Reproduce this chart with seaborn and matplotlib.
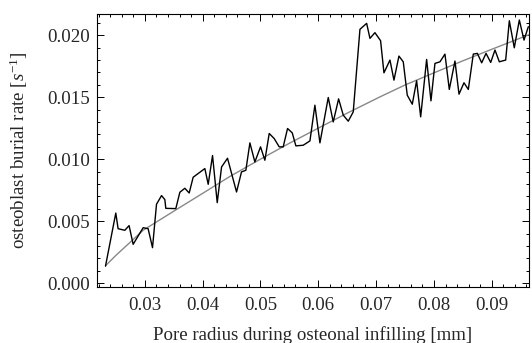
import matplotlib
matplotlib.use("Agg")
import matplotlib.pyplot as plt
import seaborn as sns
import pandas as pd
from matplotlib.ticker import MultipleLocator, FormatStrFormatter

# Noisy simulated burial rate (black)
bx = [0.0232, 0.02498, 0.02538, 0.02654, 0.02728, 0.02798, 0.02971, 0.03057, 0.03133, 0.03202,
      0.03289, 0.03346, 0.03363, 0.03536, 0.03606, 0.03692, 0.03767, 0.03836, 0.04038, 0.04096,
      0.04171, 0.04252, 0.04327, 0.0443, 0.04586, 0.04672, 0.04747, 0.04817, 0.04903, 0.05001,
      0.05076, 0.05151, 0.05237, 0.05324, 0.05393, 0.05468, 0.05549, 0.05612, 0.05739, 0.05855,
      0.05941, 0.06028, 0.06172, 0.06258, 0.06351, 0.06431, 0.06518, 0.06604, 0.0672, 0.06836,
      0.06893, 0.06979, 0.07077, 0.07135, 0.07239, 0.07308, 0.07394, 0.07469, 0.07538, 0.07625,
      0.077, 0.0777, 0.07873, 0.07948, 0.08017, 0.08104, 0.0819, 0.08265, 0.08363, 0.08433,
      0.08519, 0.08594, 0.0868, 0.0875, 0.08825, 0.089, 0.08981, 0.09055, 0.0913, 0.0924,
      0.09303, 0.09389, 0.09476, 0.09557, 0.09632]
by = [0.00137, 0.00565, 0.00439, 0.00426, 0.00464, 0.00313, 0.00447, 0.00439, 0.00286, 0.00636,
      0.00706, 0.00674, 0.00603, 0.00601, 0.00733, 0.00765, 0.00727, 0.00854, 0.00924, 0.00797,
      0.01029, 0.00649, 0.00937, 0.01007, 0.00735, 0.00897, 0.0091, 0.01131, 0.00977, 0.01099,
      0.00991, 0.01207, 0.01166, 0.01099, 0.01099, 0.01247, 0.01212, 0.01107, 0.01112, 0.01147,
      0.01435, 0.01131, 0.01497, 0.013, 0.01486, 0.01355, 0.01306, 0.01381, 0.02047, 0.02095,
      0.01974, 0.0202, 0.01955, 0.01696, 0.01799, 0.01637, 0.01831, 0.01785, 0.01516, 0.01443,
      0.01632, 0.01341, 0.01804, 0.0147, 0.01772, 0.01785, 0.01847, 0.01562, 0.01791, 0.01524,
      0.01616, 0.01562, 0.01847, 0.01853, 0.01777, 0.01853, 0.0178, 0.0188, 0.01785, 0.01799,
      0.02116, 0.01898, 0.02122, 0.0196, 0.02068]

# Smooth fit (gray)
gx = [0.0232, 0.025, 0.0275, 0.0297, 0.035, 0.0409, 0.0447, 0.05, 0.055, 0.06, 0.065,
      0.0707, 0.075, 0.08, 0.085, 0.09, 0.0964]
gy = [0.0014, 0.00224, 0.00331, 0.00426, 0.0058, 0.0075, 0.0086, 0.0100, 0.01128, 0.0125,
      0.01371, 0.01503, 0.01598, 0.01696, 0.01793, 0.01886, 0.02003]

xlabel = "Pore radius during osteonal infilling [mm]"
ylabel = "osteoblast burial rate [$s^{-1}$]"

sns.set_style("ticks")
plt.rcParams["font.family"] = ["Liberation Serif", "DejaVu Serif"]
plt.rcParams["mathtext.fontset"] = "custom"
plt.rcParams["mathtext.rm"] = "Liberation Serif"
plt.rcParams["mathtext.it"] = "Liberation Serif:italic"

fig = plt.figure(figsize=(5.32, 3.43), dpi=100)
ax = fig.add_axes([0.182, 0.163, 0.812, 0.796])

dfb = pd.DataFrame({"x": bx, "y": by})
dfg = pd.DataFrame({"x": gx, "y": gy})
sns.lineplot(data=dfg, x="x", y="y", color="#888888", lw=1.0, estimator=None, sort=False, ax=ax)
sns.lineplot(data=dfb, x="x", y="y", color="black", lw=1.0, estimator=None, sort=False, ax=ax)

ax.set_xlim(0.0217, 0.0964)
ax.set_ylim(-0.00032, 0.0217)
ax.xaxis.set_major_locator(MultipleLocator(0.01))
ax.xaxis.set_minor_locator(MultipleLocator(0.002))
ax.yaxis.set_major_locator(MultipleLocator(0.005))
ax.yaxis.set_minor_locator(MultipleLocator(0.001))
ax.xaxis.set_major_formatter(FormatStrFormatter("%.2f"))
ax.yaxis.set_major_formatter(FormatStrFormatter("%.3f"))
ax.tick_params(which="both", direction="in", top=True, right=True, color="black", width=0.7)
ax.tick_params(which="major", length=5, labelsize=13.6)
ax.tick_params(axis="x", which="major", pad=7)
ax.tick_params(axis="y", which="major", pad=5)
ax.tick_params(which="minor", length=2.5)
for s in ax.spines.values():
    s.set_color("black")
    s.set_linewidth(0.8)

ax.set_xlabel(xlabel, fontsize=13.6, labelpad=9)
ax.set_ylabel(ylabel, fontsize=13.6, labelpad=12)

fig.savefig("out.png", dpi=100)
